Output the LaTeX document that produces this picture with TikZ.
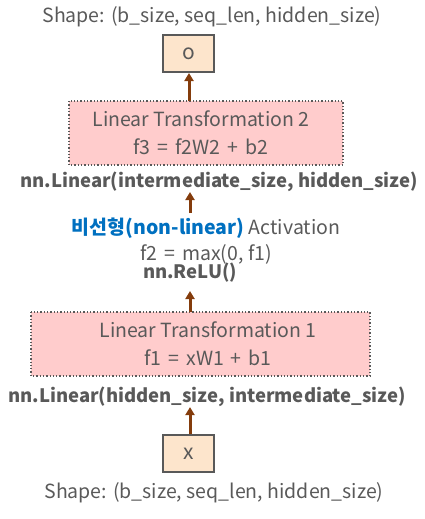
\documentclass[tikz,border=0pt]{standalone}
\usepackage{fontspec}
\setmainfont{Noto Sans CJK KR}
\usetikzlibrary{arrows.meta}
\definecolor{txt}{HTML}{595959}
\definecolor{peach}{HTML}{FDE5CC}
\definecolor{pinkfill}{HTML}{FFCCCC}
\definecolor{brownarr}{HTML}{843C0C}
\definecolor{bluetxt}{HTML}{0070C0}
\newcommand{\opsp}{\hspace{7pt}}
\tikzset{
  lbl/.style={text=txt, font=\fontsize{19.5}{22}\selectfont, inner sep=0pt, anchor=center},
  blbl/.style={text=txt, font=\fontsize{18.5}{22}\selectfont\bfseries, inner sep=0pt, anchor=center},
  vecbox/.style={draw=txt, line width=2pt, fill=peach, minimum width=51pt, minimum height=37pt, inner sep=0pt, text=txt, font=\fontsize{21}{24}\selectfont},
  linbox/.style={draw=txt, line width=1.3pt, dotted, fill=pinkfill, inner sep=0pt},
  arr/.style={draw=brownarr, line width=3pt, -{Triangle[width=9pt,length=8pt]}}
}
\begin{document}
\begin{tikzpicture}[x=1pt,y=-1pt]
\useasboundingbox (0,0) rectangle (424,519);
\node[lbl] (shapetop) at (212,17) {Shape: (b\_size, seq\_len, hidden\_size)};
\node[vecbox] (o) at (188.5,53.5) {o};
\path[linbox] (69,101) rectangle (343,165);
\coordinate (lt2top) at (189,101);
\node[lbl] (lt2a) at (201,119) {Linear Transformation 2};
\node[lbl] (lt2b) at (201,147) {f3\opsp=\opsp f2W2\opsp+\opsp b2};
\node[blbl] (lin2) at (219,182) {nn.Linear(intermediate\_size, hidden\_size)};
\coordinate (a2s) at (190,213);
\coordinate (a2e) at (190,192);
\node[lbl] (act) at (206,228) {\textcolor{bluetxt}{\bfseries 비선형(non-linear)} Activation};
\node[lbl] (f2) at (206,254) {f2\opsp=\opsp max(0, f1)};
\node[blbl] (relu) at (190,273) {nn.ReLU()};
\coordinate (a1s) at (190,312);
\coordinate (a1e) at (190,291);
\path[linbox] (31,312) rectangle (370,376);
\node[lbl] (lt1a) at (208,330) {Linear Transformation 1};
\node[lbl] (lt1b) at (208,358) {f1\opsp=\opsp xW1\opsp+\opsp b1};
\node[blbl] (lin1) at (207,397) {nn.Linear(hidden\_size, intermediate\_size)};
\node[vecbox] (x) at (188.5,453.5) {x};
\node[lbl] (shapebot) at (214,493) {Shape: (b\_size, seq\_len, hidden\_size)};
\draw[arr] (lt2top) -- (o.south -| lt2top);
\draw[arr] (a2s) -- (a2e);
\draw[arr] (a1s) -- (a1e);
\draw[arr] (x.north -| a1s) -- (lin1.south -| a1s);
\end{tikzpicture}
\end{document}
